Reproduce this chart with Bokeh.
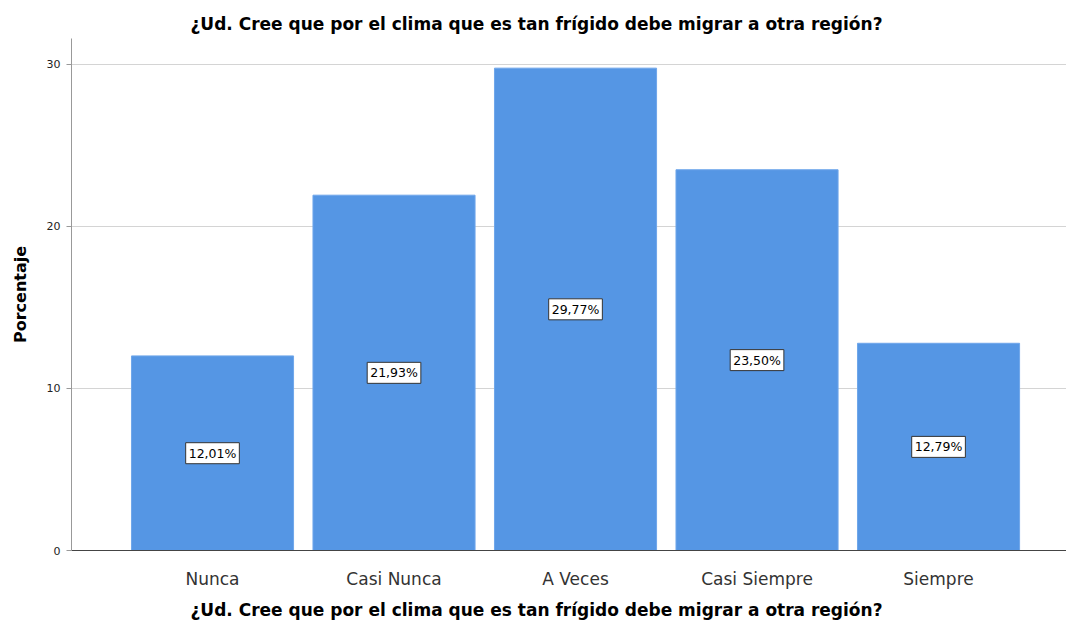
from bokeh.plotting import figure
from bokeh.models import ColumnDataSource, FixedTicker, Range1d, Title
from bokeh.core.properties import value
from bokeh.embed import file_html
from bokeh.resources import INLINE

categories = ["Nunca", "Casi Nunca", "A Veces", "Casi Siempre", "Siempre"]
values = [12.01, 21.93, 29.77, 23.50, 12.79]
y_ticks = [0, 10, 20, 30]
question = "¿Ud. Cree que por el clima que es tan frígido debe migrar a otra región?"

xs = list(range(1, len(categories) + 1))
labels = [("%.2f" % v).replace(".", ",") + "%" for v in values]
mids = [v / 2 for v in values]
src = ColumnDataSource(dict(x=xs, top=values, mid=mids, label=labels))

FONT = "DejaVu Sans"
p = figure(width=1066, height=625, output_backend="svg", toolbar_location=None,
           x_range=Range1d(0.2231, 5.705), y_range=Range1d(0, 31.6),
           min_border_left=71, min_border_right=0, min_border_top=38, min_border_bottom=10)

top_title = Title(text=question, align="left", offset=119, text_font=FONT, text_font_size="17px",
                  text_font_style="bold", text_color="#000000")
p.add_layout(top_title, "above")

p.vbar(x="x", top="top", width=0.893, source=src, fill_color="#5596E4", line_color="#6fa6ea", line_width=1)

p.text(x="x", y="mid", text="label", source=src, text_align="center", text_baseline="middle",
       text_font=value(FONT), text_font_size="12.5px", text_color="#000000",
       background_fill_color="white", border_line_color="#333333", border_line_width=1,
       padding=3)

p.xaxis.ticker = FixedTicker(ticks=xs)
p.xaxis.major_label_overrides = {x: c for x, c in zip(xs, categories)}
p.xaxis.major_tick_line_color = None
p.xaxis.minor_tick_line_color = None
p.xaxis.axis_line_color = "#444444"
p.xaxis.major_label_text_font = FONT
p.xaxis.major_label_text_font_size = "17px"
p.xaxis.major_label_text_color = "#333333"
p.xaxis.major_label_standoff = 12

bottom_title = Title(text=question, align="left", offset=119, text_font=FONT, text_font_size="17px",
                     text_font_style="bold", text_color="#000000", standoff=12)
p.add_layout(bottom_title, "below")

p.yaxis.ticker = FixedTicker(ticks=y_ticks)
p.yaxis.minor_tick_line_color = None
p.yaxis.major_tick_out = 5
p.yaxis.major_tick_in = 0
p.yaxis.major_tick_line_color = "#999999"
p.yaxis.axis_line_color = "#999999"
p.yaxis.major_label_text_font = FONT
p.yaxis.major_label_text_font_size = "11px"
p.yaxis.major_label_text_color = "#222222"
p.yaxis.major_label_standoff = 6
p.yaxis.axis_label = "Porcentaje"
p.yaxis.axis_label_text_font = FONT
p.yaxis.axis_label_text_font_size = "16px"
p.yaxis.axis_label_text_font_style = "bold"
p.yaxis.axis_label_text_color = "#000000"
p.yaxis.axis_label_standoff = 14

p.xgrid.grid_line_color = None
p.ygrid.grid_line_color = "#d4d4d4"
p.ygrid.grid_line_width = 1
p.outline_line_color = None

open("out.html", "w").write(file_html(p, INLINE))
